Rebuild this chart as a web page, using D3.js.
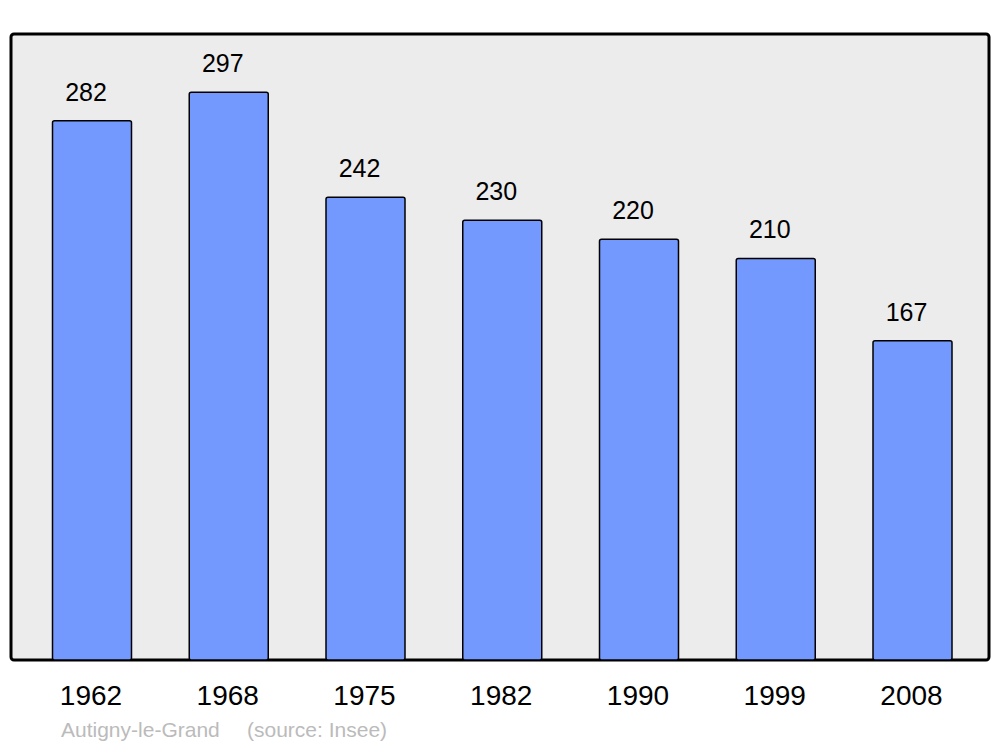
<!DOCTYPE html>
<html lang="fr">
<head>
<meta charset="utf-8"/>
<title>Autigny-le-Grand</title>
<style>
  body { margin: 0; background: #fff; }
  svg text { font-family: "Liberation Sans", Arial, sans-serif; }
</style>
</head>
<body>
<svg width="1000" height="747"></svg>
<script src="https://d3js.org/d3.v7.min.js"></script>
<script>

var years = ["1962", "1968", "1975", "1982", "1990", "1999", "2008"];
var population = [282, 297, 242, 230, 220, 210, 167];
var commune = "Autigny-le-Grand";
var source = "(source: Insee)";

var svg = d3.select("svg"),
    plotLeft = 11, plotRight = 989, plotTop = 34, plotBottom = 660,
    barWidth = 79;

var x = d3.scalePoint()
    .domain(years)
    .range([92, 912.5]);

var y = d3.scaleLinear()
    .domain([0, 327.4])
    .range([plotBottom, plotTop]);

// cadre
svg.append("rect")
    .attr("x", plotLeft)
    .attr("y", plotTop)
    .attr("width", plotRight - plotLeft)
    .attr("height", plotBottom - plotTop)
    .attr("rx", 3)
    .attr("fill", "#ececec")
    .attr("stroke", "#000")
    .attr("stroke-width", 3);

var bars = svg.append("g")
  .selectAll("g")
  .data(years)
  .enter().append("g");

bars.append("rect")
    .attr("x", function(d) { return x(d) - barWidth / 2; })
    .attr("y", function(d, i) { return y(population[i]); })
    .attr("width", barWidth)
    .attr("height", function(d, i) { return plotBottom - y(population[i]); })
    .attr("rx", 2)
    .attr("fill", "#7399ff")
    .attr("stroke", "#000")
    .attr("stroke-width", 1.5);

bars.append("text")
    .attr("x", function(d) { return x(d) - 6; })
    .attr("y", function(d, i) { return y(population[i]) - 20; })
    .attr("text-anchor", "middle")
    .attr("font-size", 25)
    .text(function(d, i) { return population[i]; });

// années
svg.append("g")
  .selectAll("text")
  .data(years)
  .enter().append("text")
    .attr("x", function(d) { return x(d) - 1; })
    .attr("y", 705)
    .attr("text-anchor", "middle")
    .attr("font-size", 28)
    .text(function(d) { return d; });

svg.append("text")
    .attr("x", 61)
    .attr("y", 737)
    .attr("font-size", 21)
    .attr("fill", "#bbbbbb")
    .text(commune);

svg.append("text")
    .attr("x", 247)
    .attr("y", 737)
    .attr("font-size", 21)
    .attr("fill", "#bbbbbb")
    .text(source);

</script>
</body>
</html>
